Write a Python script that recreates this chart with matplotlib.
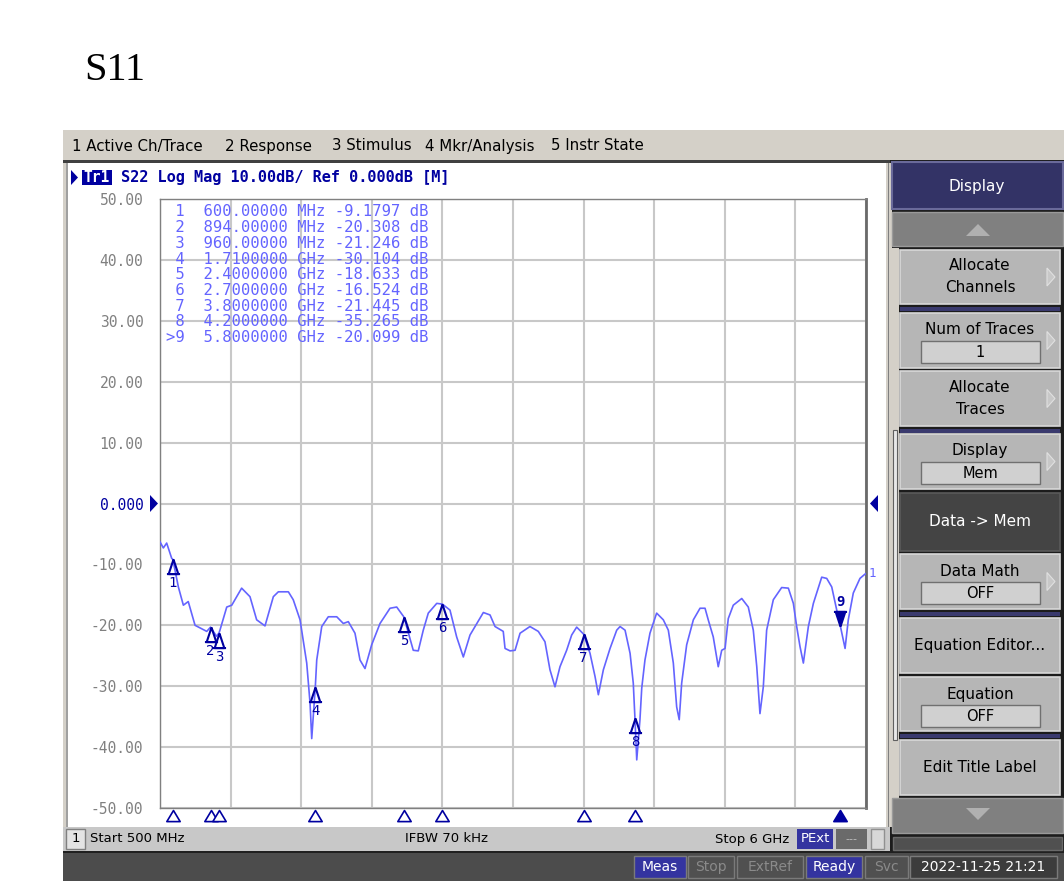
import numpy as np
import matplotlib
matplotlib.use("Agg")
import matplotlib.pyplot as plt
from matplotlib.patches import Rectangle, Polygon
from matplotlib.path import Path
from matplotlib.transforms import blended_transform_factory

# ---------------- data ----------------
trace_freq_ghz = [0.500, 0.526, 0.552, 0.591, 0.600, 0.643, 0.682, 0.720, 0.773, 0.864,
                  0.894, 0.940, 0.960, 0.967, 1.020, 1.059, 1.136, 1.201, 1.253, 1.318,
                  1.383, 1.422, 1.500, 1.538, 1.591, 1.643, 1.669, 1.682, 1.700, 1.710,
                  1.721, 1.760, 1.811, 1.877, 1.928, 1.967, 2.019, 2.058, 2.097, 2.149,
                  2.214, 2.292, 2.344, 2.400, 2.473, 2.512, 2.551, 2.590, 2.656, 2.700,
                  2.759, 2.811, 2.863, 2.915, 2.954, 3.019, 3.071, 3.110, 3.174, 3.188,
                  3.227, 3.266, 3.305, 3.382, 3.447, 3.499, 3.538, 3.577, 3.616, 3.668,
                  3.707, 3.746, 3.800, 3.850, 3.889, 3.915, 3.954, 4.006, 4.058, 4.084,
                  4.123, 4.162, 4.187, 4.200, 4.214, 4.239, 4.253, 4.278, 4.317, 4.369,
                  4.421, 4.460, 4.499, 4.525, 4.545, 4.564, 4.603, 4.655, 4.707, 4.746,
                  4.771, 4.810, 4.849, 4.876, 4.902, 4.927, 4.966, 5.032, 5.083, 5.122,
                  5.149, 5.174, 5.200, 5.226, 5.278, 5.343, 5.395, 5.434, 5.460, 5.486,
                  5.512, 5.551, 5.590, 5.655, 5.694, 5.733, 5.772, 5.800, 5.837, 5.862,
                  5.901, 5.953, 5.992, 6.000]
trace_db = [-6.3, -7.3, -6.5, -9.0, -9.18, -13.7, -16.7, -16.1, -20.0, -21.0,
            -20.3, -21.8, -21.25, -20.8, -17.0, -16.7, -13.9, -15.3, -19.1, -20.1,
            -15.3, -14.5, -14.5, -15.8, -19.1, -26.2, -32.8, -38.6, -33.0, -30.1,
            -25.7, -20.2, -18.6, -18.6, -19.7, -19.4, -21.3, -25.7, -27.1, -23.2,
            -19.7, -17.2, -17.0, -18.63, -24.1, -24.2, -20.8, -18.0, -16.4, -16.52,
            -17.5, -21.9, -25.2, -21.6, -20.2, -17.9, -18.3, -20.2, -21.0, -23.8,
            -24.2, -24.1, -21.3, -20.2, -21.0, -22.7, -27.3, -30.1, -26.8, -24.1,
            -21.6, -20.3, -21.45, -24.6, -28.4, -31.4, -27.3, -23.8, -20.8, -20.2,
            -20.8, -24.6, -29.5, -35.27, -42.1, -35.5, -30.3, -25.7, -21.3, -18.0,
            -19.1, -20.8, -26.2, -33.4, -35.5, -29.5, -23.2, -19.1, -17.2, -17.2,
            -19.1, -21.9, -26.8, -24.1, -23.8, -18.9, -16.7, -15.6, -17.0, -20.8,
            -26.8, -34.5, -30.1, -20.8, -15.8, -13.8, -13.9, -16.4, -20.2, -23.5,
            -26.2, -20.2, -16.4, -12.1, -12.3, -13.7, -17.5, -20.10, -23.8, -19.1,
            -14.7, -12.3, -11.6, -11.5]

marker_ids = ["1", "2", "3", "4", "5", "6", "7", "8", "9"]
marker_freq_ghz = [0.600, 0.894, 0.960, 1.710, 2.400, 2.700, 3.800, 4.200, 5.800]
marker_db = [-9.1797, -20.308, -21.246, -30.104, -18.633, -16.524, -21.445, -35.265, -20.099]
active_marker = "9"

y_ticks = [50, 40, 30, 20, 10, 0, -10, -20, -30, -40, -50]
y_tick_labels = ["50.00", "40.00", "30.00", "20.00", "10.00", "0.000",
                 "-10.00", "-20.00", "-30.00", "-40.00", "-50.00"]
x_start_ghz, x_stop_ghz, x_divisions = 0.5, 6.0, 10

menu_items = ["1 Active Ch/Trace", "2 Response", "3 Stimulus", "4 Mkr/Analysis", "5 Instr State"]
menu_x = [72, 225, 332, 425, 551]

# ---------------- figure ----------------
W, H = 1064, 883
fig = plt.figure(figsize=(W / 100, H / 100), dpi=100)
fig.patch.set_facecolor("white")
bg = fig.add_axes([0, 0, 1, 1], zorder=0)
bg.set_xlim(0, W)
bg.set_ylim(H, 0)
bg.axis("off")

MONO = "DejaVu Sans Mono"
SANS = "DejaVu Sans"
DARKBLUE = "#0000a0"
TRACE = "#6464ff"


def rect(x0, y0, x1, y1, fc, ec="none", lw=0, z=1):
    bg.add_patch(Rectangle((x0, y0), x1 - x0, y1 - y0, facecolor=fc, edgecolor=ec, lw=lw, zorder=z))


def txt(x, y, s, **kw):
    kw.setdefault("va", "center")
    bg.text(x, y, s, **kw)


# title
txt(84, 70, "S11", fontsize=29, family="Liberation Serif", color="black", ha="left")

# menu bar
rect(63, 130, W, 160, "#d4d0c8")
for s, x in zip(menu_items, menu_x):
    txt(x, 146, s, fontsize=10.8, family=SANS, color="black", ha="left")
rect(63, 160, 890, 163, "#404040", z=2)

# channel window
rect(63, 163, 888, 827, "white")
rect(63, 163, 66, 827, "#d4d0c8", z=2)
rect(66, 163, 68, 827, "#a0a0a0", z=2)
rect(886, 163, 892, 827, "#d4d0c8", z=2)
rect(888, 163, 889, 827, "#808080", z=3)

# header
bg.add_patch(Polygon([(71, 170), (71, 185), (78, 177.5)], closed=True, fc=DARKBLUE, ec="none", zorder=3))
rect(82, 170, 112, 185, DARKBLUE, z=3)
txt(97, 177.5, "Tr1", fontsize=10.5, family=MONO, weight="bold", color="white", ha="center", zorder=4)
txt(121, 177.5, "S22 Log Mag 10.00dB/ Ref 0.000dB [M]", fontsize=11, family=MONO,
    weight="bold", color=DARKBLUE, ha="left", zorder=4)

# reference triangles
bg.add_patch(Polygon([(150, 495), (150, 512), (158, 503.5)], closed=True, fc=DARKBLUE, ec="none", zorder=3))
bg.add_patch(Polygon([(878, 495), (878, 512), (870, 503.5)], closed=True, fc=DARKBLUE, ec="none", zorder=3))

# ---------------- plot axes ----------------
x0p, x1p, y0p, y1p = 160, 866, 199, 808
ax = fig.add_axes([x0p / W, (H - y1p) / H, (x1p - x0p) / W, (y1p - y0p) / H], zorder=2)
ax.set_facecolor("white")
ax.set_xlim(x_start_ghz, x_stop_ghz)
ax.set_ylim(-50, 50)
ax.set_xticks(np.linspace(x_start_ghz, x_stop_ghz, x_divisions + 1))
ax.set_xticklabels([])
ax.set_yticks(y_ticks)
ax.set_yticklabels(y_tick_labels, family=MONO, fontsize=10.5)
for lab, v in zip(ax.get_yticklabels(), y_ticks):
    lab.set_color(DARKBLUE if v == 0 else "#808080")
ax.tick_params(length=0)
ax.tick_params(axis="y", pad=12)
ax.grid(True, color="#c8c8c8", lw=1.5)
ax.set_axisbelow(True)
for side, sp in ax.spines.items():
    sp.set_color("#808080")
    sp.set_linewidth(1)
ax.spines["right"].set_color("#6a6a6a")
ax.spines["right"].set_linewidth(2)

ax.plot(trace_freq_ghz, trace_db, color=TRACE, lw=1.2, zorder=3)

# marker table
for i, (mid, f, v) in enumerate(zip(marker_ids, marker_freq_ghz, marker_db)):
    prefix = ">" if mid == active_marker else " "
    if f < 1:
        fs, unit = f"{f * 1000:.5f}", "MHz"
    else:
        fs, unit = f"{f:.7f}", "GHz"
    row = f"{prefix}{mid}  {fs} {unit} {v:.5g} dB"
    ax.text(166, 212 + i * 15.7, row, transform=bg.transData, fontsize=11.2, family=MONO,
            color=TRACE, ha="left", va="center", zorder=5)

# marker symbols on the trace
up = Path([(0, 0), (-0.33, -1), (0.33, -1), (0, 0), (-0.45, -1), (0.45, -1)],
          [Path.MOVETO, Path.LINETO, Path.LINETO, Path.LINETO, Path.MOVETO, Path.LINETO])
down = Path([(0, 0), (-0.33, 1), (0.33, 1), (0, 0), (-0.45, 1), (0.45, 1)],
            [Path.MOVETO, Path.LINETO, Path.LINETO, Path.LINETO, Path.MOVETO, Path.LINETO])
for mid, f, v in zip(marker_ids, marker_freq_ghz, marker_db):
    if mid == active_marker:
        ax.plot([f], [v], marker=down, markersize=21, mfc=DARKBLUE, mec=DARKBLUE, mew=1.5,
                ls="none", zorder=6, clip_on=False)
        ax.annotate(mid, (f, v), xytext=(0, 24), textcoords="offset pixels", ha="center",
                    va="center", fontsize=10, family=MONO, weight="bold", color=DARKBLUE, zorder=6)
    else:
        ax.plot([f], [v], marker=up, markersize=21, mfc="none", mec=DARKBLUE, mew=1.5,
                ls="none", zorder=6, clip_on=False)
        ax.annotate(mid, (f, v), xytext=(0, -24), textcoords="offset pixels", ha="center",
                    va="center", fontsize=10, family=MONO, color=DARKBLUE, zorder=6)

# trace label at right end
ax.annotate("1", (trace_freq_ghz[-1], trace_db[-1]), xytext=(3, 0), textcoords="offset pixels",
            ha="left", va="center", fontsize=9, family=MONO, color=TRACE, annotation_clip=False)

# bottom marker triangles
btri = Path([(0, 0), (-0.6, -1), (0.6, -1), (0, 0)],
            [Path.MOVETO, Path.LINETO, Path.LINETO, Path.CLOSEPOLY])
btrans = blended_transform_factory(ax.transData, ax.transAxes)
for mid, f in zip(marker_ids, marker_freq_ghz):
    act = mid == active_marker
    ax.plot([f], [-0.0035], marker=btri, markersize=16, transform=btrans, clip_on=False,
            mfc=DARKBLUE if act else "white", mec=DARKBLUE, mew=1.2, ls="none", zorder=6)

# ---------------- status bar ----------------
rect(63, 827, 890, 851, "#c8c8c8")
rect(66, 829, 85, 849, "#e4e4e4", ec="#808080", lw=1, z=2)
txt(75.5, 839, "1", fontsize=9.5, family=SANS, color="black", ha="center", zorder=3)
txt(90, 839, "Start 500 MHz", fontsize=9.5, family=SANS, color="black", ha="left", zorder=3)
txt(405, 839, "IFBW 70 kHz", fontsize=9.5, family=SANS, color="black", ha="left", zorder=3)
txt(715, 839, "Stop 6 GHz", fontsize=9.5, family=SANS, color="black", ha="left", zorder=3)
rect(797, 829, 833, 849, "#3434a0", z=2)
txt(815, 839, "PExt", fontsize=9.5, family=SANS, color="white", ha="center", zorder=3)
rect(836, 829, 867, 849, "#6a6a6a", z=2)
txt(851.5, 839, "---", fontsize=8, family=SANS, color="#c0c0c0", ha="center", zorder=3)
rect(871, 829, 884, 849, "#d8d8d8", ec="#909090", lw=1, z=2)

# bottom bar
rect(63, 851, W, 853, "#202020")
rect(63, 853, W, 881, "#4c4c4c")
boxes = [("Meas", 634, 686, "#3434a0", "white"),
         ("Stop", 688, 734, "#505050", "#8a8a8a"),
         ("ExtRef", 737, 803, "#505050", "#8a8a8a"),
         ("Ready", 806, 862, "#3434a0", "white"),
         ("Svc", 865, 908, "#505050", "#8a8a8a"),
         ("2022-11-25 21:21", 910, 1057, "#3c3c3c", "white")]
for s, a, b, fc, tc in boxes:
    rect(a, 856, b, 878, fc, ec="#7a7a7a", lw=1, z=2)
    txt((a + b) / 2, 867, s, fontsize=10, family=SANS, color=tc, ha="center", zorder=3)

# ---------------- right panel ----------------
rect(890, 160, W, 851, "#1c1c1c")
rect(892, 162, 1063, 209, "#333366", ec="#6a6a9a", lw=1.5, z=2)
txt(977, 187, "Display", fontsize=11, family=SANS, color="white", ha="center", zorder=3)
rect(892, 212, 1063, 246, "#808080", ec="#9a9a9a", lw=1, z=2)
bg.add_patch(Polygon([(966, 236), (990, 236), (978, 224)], closed=True, fc="#b0b0b0", ec="none", zorder=3))
rect(892, 248, 899, 827, "#d4d0c8", z=2)
rect(893, 430, 897, 740, "#e8e8e8", ec="#606060", lw=0.8, z=3)

buttons = [
    (250, 304, ["Allocate", "Channels"], None, True, "#b6b6b6", "black"),
    (313, 368, ["Num of Traces"], "1", True, "#b6b6b6", "black"),
    (371, 426, ["Allocate", "Traces"], None, True, "#b6b6b6", "black"),
    (434, 489, ["Display"], "Mem", True, "#b6b6b6", "black"),
    (493, 551, ["Data -> Mem"], None, False, "#444444", "white"),
    (554, 609, ["Data Math"], "OFF", True, "#b6b6b6", "black"),
    (618, 673, ["Equation Editor..."], None, False, "#b6b6b6", "black"),
    (677, 731, ["Equation"], "OFF", False, "#b6b6b6", "black"),
    (740, 795, ["Edit Title Label"], None, False, "#b6b6b6", "black"),
]
for y0, y1, lines, val, arrow, fc, tc in buttons:
    rect(900, y0, 1060, y1, fc, ec="#d8d8d8" if fc != "#444444" else "#5a5a5a", lw=1.2, z=2)
    cy = (y0 + y1) / 2
    if val is not None:
        txt(980, y0 + 17, lines[0], fontsize=11, family=SANS, color=tc, ha="center", zorder=3)
        rect(921, y0 + 28, 1040, y0 + 50, "#d0d0d0", ec="#707070", lw=1, z=3)
        txt(980, y0 + 39.5, val, fontsize=10.5, family=SANS, color=tc, ha="center", zorder=4)
    elif len(lines) == 2:
        txt(980, cy - 11, lines[0], fontsize=11, family=SANS, color=tc, ha="center", zorder=3)
        txt(980, cy + 11, lines[1], fontsize=11, family=SANS, color=tc, ha="center", zorder=3)
    else:
        txt(980, cy, lines[0], fontsize=11, family=SANS, color=tc, ha="center", zorder=3)
    if arrow:
        bg.add_patch(Polygon([(1047, cy - 9), (1047, cy + 9), (1055, cy)], closed=True,
                             fc="#c8c8c8", ec="#e0e0e0", lw=0.8, zorder=3))

for ys in (307, 429, 612, 734):
    rect(900, ys, 1060, ys + 4, "#3a3a6e", z=2)

rect(892, 798, 1063, 833, "#808080", ec="#9a9a9a", lw=1, z=2)
bg.add_patch(Polygon([(966, 808), (990, 808), (978, 820)], closed=True, fc="#b0b0b0", ec="none", zorder=3))
rect(893, 837, 1062, 850, "#505050", ec="#6a6a6a", lw=1, z=2)

fig.savefig("out.png", dpi=100, facecolor="white")
